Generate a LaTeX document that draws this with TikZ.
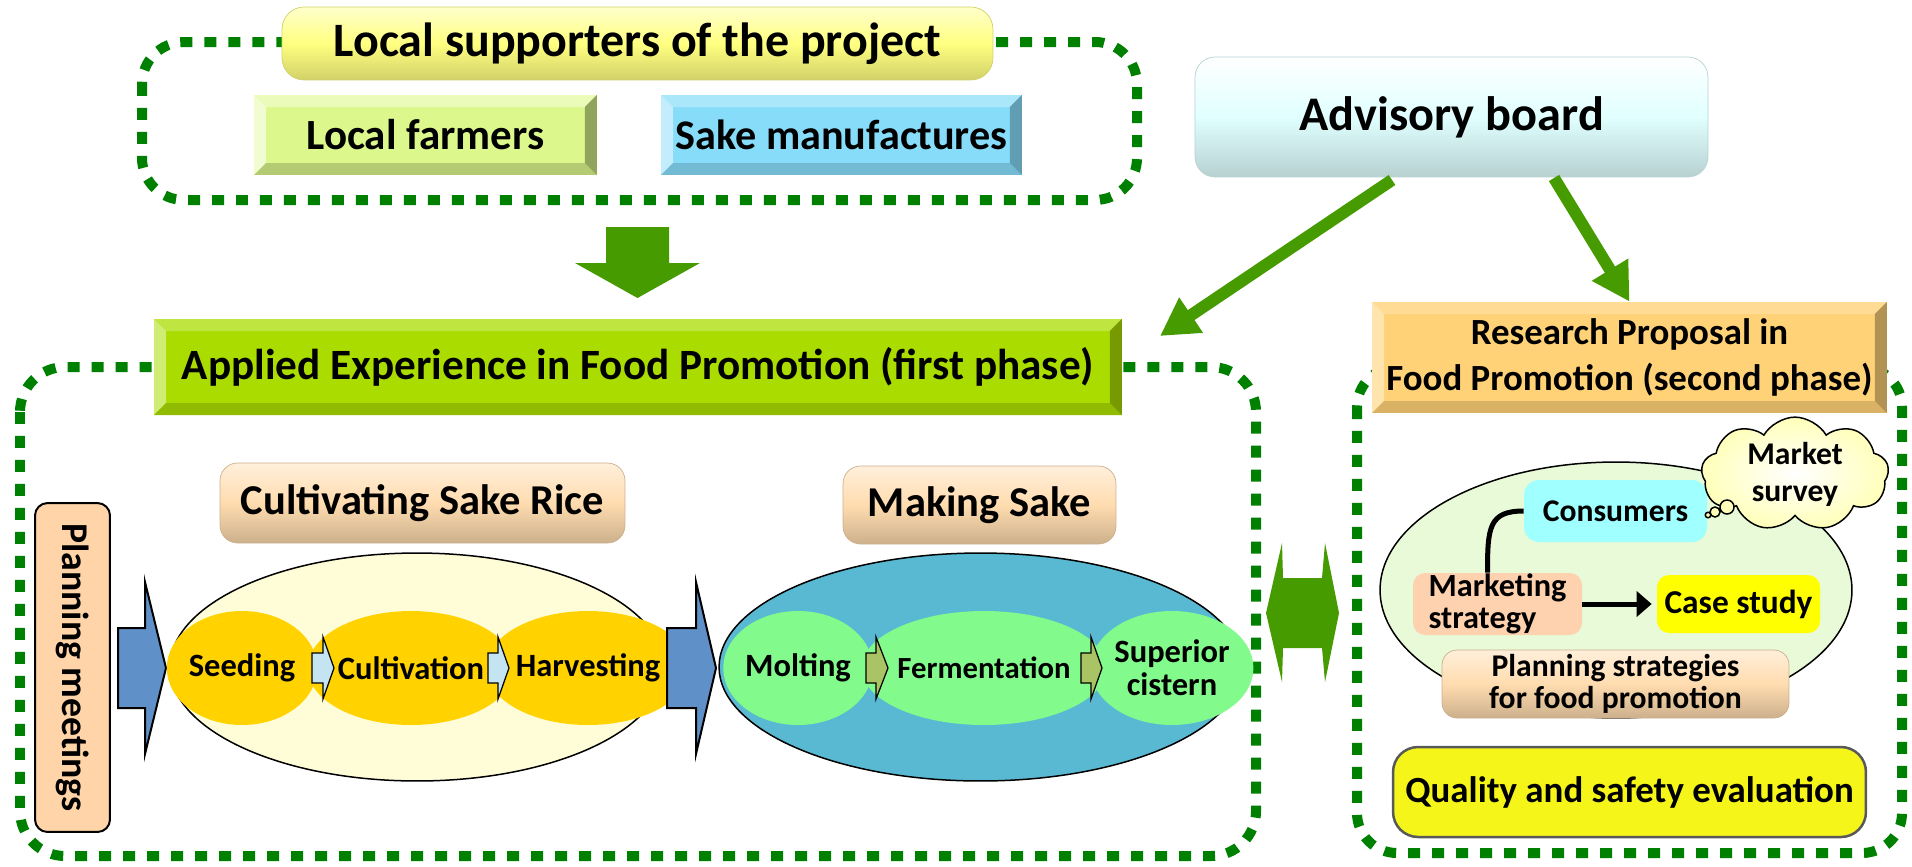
\documentclass[tikz,border=0pt]{standalone}
\usepackage{fontspec}
\setmainfont{Carlito}
\usetikzlibrary{shapes.geometric,shapes.symbols,arrows.meta}

\definecolor{dotgreen}{RGB}{0,128,0}
\definecolor{flowgreen}{RGB}{70,155,0}
\definecolor{supyellow}{RGB}{255,255,128}
\definecolor{farmgreen}{RGB}{220,248,140}
\definecolor{brewsky}{RGB}{135,220,250}
\definecolor{advcyan}{RGB}{224,255,255}
\definecolor{firstgreen}{RGB}{170,220,0}
\definecolor{secondorange}{RGB}{255,210,120}
\definecolor{headpeach}{RGB}{255,220,175}
\definecolor{planpeach}{RGB}{255,212,168}
\definecolor{riceyellow}{RGB}{255,253,215}
\definecolor{ricegold}{RGB}{255,210,0}
\definecolor{brewblue}{RGB}{90,185,210}
\definecolor{brewgreen}{RGB}{130,250,140}
\definecolor{stepblue}{RGB}{95,145,200}
\definecolor{riceflowblue}{RGB}{195,228,240}
\definecolor{brewflowolive}{RGB}{170,195,100}
\definecolor{marketgreen}{RGB}{232,250,215}
\definecolor{consumcyan}{RGB}{160,255,255}
\definecolor{stratpeach}{RGB}{255,210,175}
\definecolor{caseyellow}{RGB}{255,255,0}
\definecolor{cloudyellow}{RGB}{255,255,185}
\definecolor{qualyellow}{RGB}{245,245,25}

\newcommand{\bevw}{0.24cm}
% block arrow: style, start, head base, tip, centre y, half shaft, half head
\newcommand{\flowarrow}[7]{%
  \filldraw[#1] (#2,#5-#6) -- (#3,#5-#6) -- (#3,#5-#7) -- (#4,#5)
    -- (#3,#5+#7) -- (#3,#5+#6) -- (#2,#5+#6) -- cycle;}

\tikzset{
  dotbox/.style={draw=dotgreen, line width=0.2cm, dash pattern=on 0.24cm off 0.24cm},
  fs/.style 2 args={font=\fontsize{#1}{#2}\selectfont\bfseries},
  glossy/.style n args={3}{rounded corners=0.35cm, top color=#1, bottom color=#3,
    middle color=#2, draw=#3, line width=0.4pt, inner sep=0pt},
  bevel/.style n args={5}{fill=#1, inner sep=0pt, path picture={
    \fill[#2] (path picture bounding box.north west) -- (path picture bounding box.north east)
      -- ([shift={(-\bevw,-\bevw)}]path picture bounding box.north east)
      -- ([shift={(\bevw,-\bevw)}]path picture bounding box.north west) -- cycle;
    \fill[#3] (path picture bounding box.north west)
      -- ([shift={(\bevw,-\bevw)}]path picture bounding box.north west)
      -- ([shift={(\bevw,\bevw)}]path picture bounding box.south west)
      -- (path picture bounding box.south west) -- cycle;
    \fill[#4] (path picture bounding box.south west) -- (path picture bounding box.south east)
      -- ([shift={(-\bevw,\bevw)}]path picture bounding box.south east)
      -- ([shift={(\bevw,\bevw)}]path picture bounding box.south west) -- cycle;
    \fill[#5] (path picture bounding box.north east)
      -- ([shift={(-\bevw,-\bevw)}]path picture bounding box.north east)
      -- ([shift={(-\bevw,\bevw)}]path picture bounding box.south east)
      -- (path picture bounding box.south east) -- cycle;}},
  stepcirc/.style={ellipse, inner sep=0pt, minimum height=2.28cm, fs={18.5}{20}},
  stepflow/.style={fill=stepblue, draw=black, line width=0.04cm},
  riceflow/.style={fill=riceflowblue, draw=black, line width=0.025cm},
  brewflow/.style={fill=brewflowolive, draw=black, line width=0.025cm},
  flowline/.style={draw=flowgreen, line width=0.24cm, -{Triangle[length=0.75cm, width=0.8cm]}},
}

\begin{document}
\begin{tikzpicture}[x=0.02cm, y=-0.02cm]
\useasboundingbox (0,0) rectangle (1912,866);

% local supporters
\draw[dotbox, rounded corners=0.84cm] (142,42) rectangle (1137,200);
\node[glossy={supyellow!40!white}{supyellow}{supyellow!82!black}, rounded corners=0.44cm,
  minimum width=14.22cm, minimum height=1.46cm, fs={27.3}{30}] (supporters) at (637.5,43.5)
  {Local supporters of the project};
\node[bevel={farmgreen}{farmgreen!60!white}{farmgreen!40!white}{farmgreen!82!black}{farmgreen!66!black},
  minimum width=6.86cm, minimum height=1.6cm, fs={24.5}{28}] (farmers) at (425.5,135) {Local farmers};
\node[bevel={brewsky}{brewsky!70!white}{brewsky!50!white}{brewsky!85!black}{brewsky!72!black},
  minimum width=7.22cm, minimum height=1.6cm, fs={24}{28}] (brewers) at (841.5,135) {Sake manufactures};

% advisory board
\node[glossy={white}{advcyan}{advcyan!82!black}, rounded corners=0.4cm,
  minimum width=10.26cm, minimum height=2.4cm, fs={27.5}{30}] (advisory) at (1451.5,117) {Advisory board};

% first phase frame
\draw[dotbox, rounded corners=0.9cm] (20,367) rectangle (1256,856);
\node[bevel={firstgreen}{firstgreen!75!white}{firstgreen!55!white}{firstgreen!85!black}{firstgreen!70!black},
  minimum width=19.36cm, minimum height=1.92cm, fs={24.6}{28}] (firstphase) at (638,367)
  {Applied Experience in Food Promotion (first phase)};

% supporters feed the first phase
\fill[flowgreen] (606,227) -- (669,227) -- (669,263) -- (700,263) -- (637.5,298)
  -- (575,263) -- (606,263) -- cycle;

% second phase frame
\draw[dotbox, rounded corners=0.8cm] (1357,367) rectangle (1902,853);
\node[bevel={secondorange}{secondorange!80!white}{secondorange!60!white}{secondorange!85!black}{secondorange!70!black},
  minimum width=10.3cm, minimum height=2.22cm, align=center, fs={21}{26}] (secondphase) at (1629.5,357.5)
  {Research Proposal in\\Food Promotion (second phase)};

% advisory arrows
\coordinate (advleft) at (1392,180);
\coordinate (advright) at (1554,178);
\coordinate (firsttip) at (1160,336);
\draw[flowline] (advleft) -- (firsttip);
\draw[flowline] (advright) -- (secondphase.north);

% planning meetings
\node[draw, line width=0.04cm, fill=planpeach, rounded corners=0.25cm, rotate=-90,
  minimum width=6.58cm, minimum height=1.5cm, inner sep=0pt, fs={21.5}{24}] (meetings) at (72.5,667.5)
  {Planning meetings};

% cultivating sake rice
\node[glossy={headpeach!45!white}{headpeach}{headpeach!80!black},
  minimum width=8.1cm, minimum height=1.6cm, fs={24.2}{27}] (ricehead) at (422.5,503) {Cultivating Sake Rice};
\flowarrow{stepflow}{118}{145}{166}{668}{40}{86}
\node[ellipse, draw, line width=0.03cm, fill=riceyellow, minimum width=9.88cm, minimum height=4.56cm,
  inner sep=0pt] (riceoval) at (417,667) {};
\node[stepcirc, fill=ricegold, minimum width=2.6cm] (seeding) at (242,668) {Seeding};
\node[stepcirc, fill=ricegold, minimum width=2.88cm] (cultivation) at (411,668) {Cultivation};
\node[stepcirc, fill=ricegold, minimum width=2.92cm] (harvesting) at (588,668) {Harvesting};
\flowarrow{riceflow}{312}{323}{334}{668}{15}{31}
\flowarrow{riceflow}{488}{498}{509}{668}{15}{31}

% making sake
\node[glossy={headpeach!45!white}{headpeach}{headpeach!80!black},
  minimum width=5.46cm, minimum height=1.56cm, fs={24.2}{27}] (sakehead) at (979.5,505) {Making Sake};
\flowarrow{stepflow}{667}{696}{716}{668}{40}{86}
\node[ellipse, draw, line width=0.03cm, fill=brewblue, minimum width=10.46cm, minimum height=4.56cm,
  inner sep=0pt] (brewoval) at (980.5,667) {};
\node[stepcirc, fill=brewgreen, minimum width=2.68cm] (molting) at (798,668) {Molting};
\node[stepcirc, fill=brewgreen, minimum width=3.76cm, fs={17.5}{19}] (fermentation) at (984,668) {Fermentation};
\node[stepcirc, fill=brewgreen, minimum width=2.72cm, align=center, fs={18.5}{19}] (cistern) at (1172,668)
  {Superior\\cistern};
\flowarrow{brewflow}{866}{876}{888}{668}{15}{31}
\flowarrow{brewflow}{1081}{1091}{1102}{668}{15}{31}

% both phases
\fill[flowgreen] (1266,613) -- (1282,543) -- (1283,578) -- (1322,578) -- (1325,543) -- (1339,613)
  -- (1325,682) -- (1322,648) -- (1283,648) -- (1282,682) -- cycle;

% marketing
\node[ellipse, draw, line width=0.03cm, fill=marketgreen, minimum width=9.44cm, minimum height=5.12cm,
  inner sep=0pt] (marketoval) at (1616,590) {};
\node[fill=consumcyan, rounded corners=0.3cm, minimum width=3.66cm, minimum height=1.24cm,
  inner sep=0pt, fs={18}{20}] (consumers) at (1615.5,511) {Consumers};
\node[fill=stratpeach, rounded corners=0.24cm, minimum width=3.38cm, minimum height=1.24cm,
  inner sep=0pt, align=left, fs={18.4}{18.4}] (strategy) at (1497.5,604) {Marketing\\strategy};
\node[fill=caseyellow, rounded corners=0.24cm, minimum width=3.26cm, minimum height=1.16cm,
  inner sep=0pt, fs={19}{20}] (casestudy) at (1738.5,604) {Case study};
\draw[line width=0.1cm, shorten >=0.1cm, -{Triangle[length=0.3cm, width=0.5cm]}] (strategy.east) -- (casestudy.west);
\draw[line width=0.1cm] (consumers.west) .. controls +(-0.7cm,0) and +(0,0.9cm) .. ([xshift=-0.2cm]strategy.north);
\node[cloud, cloud puffs=9, cloud puff arc=120, aspect=1.6, draw, line width=0.03cm,
  inner color=white, outer color=cloudyellow, minimum width=3.75cm, minimum height=2.15cm,
  inner sep=0pt, align=center, fs={18}{21}] (survey) at (1795,474) {Market\\survey};
\filldraw[fill=cloudyellow, draw=black, line width=0.03cm] (1727,507) circle (0.14cm)
  (1715,512) circle (0.1cm) (1708,515) circle (0.055cm);
\node[glossy={headpeach!45!white}{headpeach}{headpeach!80!black}, rounded corners=0.3cm,
  minimum width=6.94cm, minimum height=1.36cm, align=center, fs={18}{18}] (planstrat) at (1615.5,684)
  {Planning strategies\\for food promotion};

% quality
\node[draw=gray!70!black, line width=0.05cm, fill=qualyellow, rounded corners=0.5cm,
  minimum width=9.46cm, minimum height=1.8cm, inner sep=0pt, fs={21}{24}] (quality) at (1629.5,792)
  {Quality and safety evaluation};
\end{tikzpicture}
\end{document}
